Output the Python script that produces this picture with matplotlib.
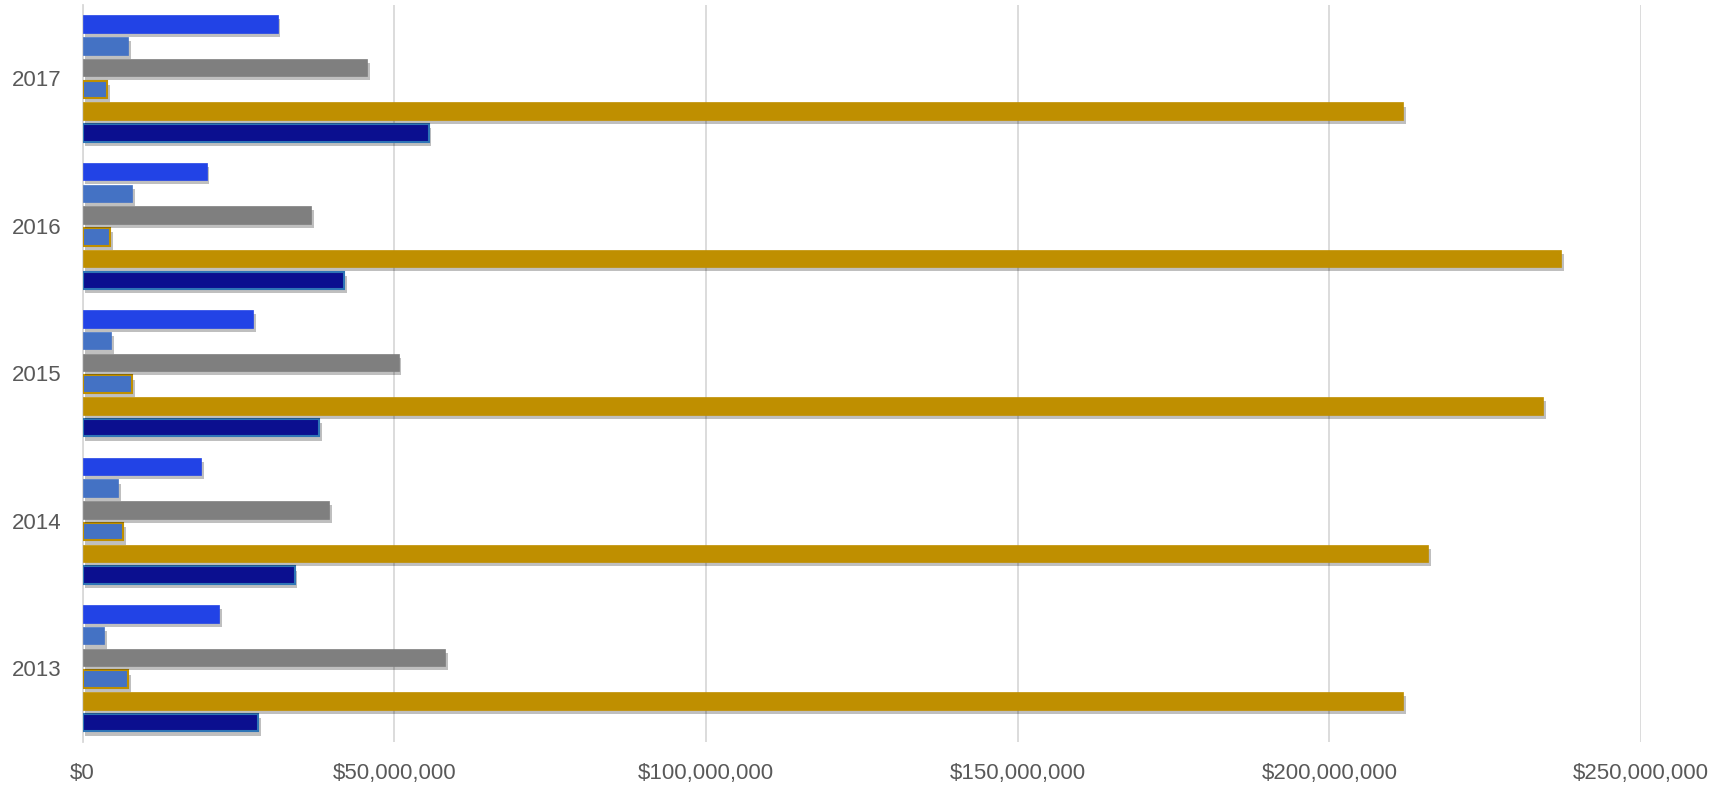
import matplotlib.pyplot as plt
import matplotlib.patheffects as pe
import numpy as np
from matplotlib.ticker import FuncFormatter

plt.rcParams['font.family'] = ['Liberation Sans Narrow', 'Liberation Sans', 'DejaVu Sans']

years = ['2013', '2014', '2015', '2016', '2017']

# series listed bottom-to-top within each year group (values in dollars)
serie_1 = [28.2e6, 34.0e6, 37.9e6, 41.9e6, 55.5e6]      # azul oscuro
serie_2 = [211.8e6, 215.8e6, 234.3e6, 237.2e6, 211.8e6]  # dorado
serie_3 = [7.3e6, 6.5e6, 8.0e6, 4.4e6, 3.9e6]           # azul con borde dorado
serie_4 = [58.2e6, 39.6e6, 50.7e6, 36.6e6, 45.7e6]      # gris
serie_5 = [3.4e6, 5.7e6, 4.6e6, 8.0e6, 7.3e6]           # azul medio
serie_6 = [21.9e6, 19.0e6, 27.4e6, 19.9e6, 31.3e6]      # azul brillante

series = [serie_1, serie_2, serie_3, serie_4, serie_5, serie_6]
colores = ['#0b0f8f', '#bf8f00', '#4472c4', '#7f7f7f', '#4472c4', '#2243e6']
bordes = ['#2e75b6', '#bf8f00', '#bf8f00', '#7f7f7f', '#4472c4', '#2243e6']
grosor = [1.5, 0.5, 1.5, 0.5, 0.5, 0.5]

fig = plt.figure(figsize=(17.24, 7.86), dpi=100)
ax = fig.add_axes([0.0479, 0.056, 0.904, 0.938])

y = np.arange(len(years))
slot = 0.1476
alto = 0.1185
sombra = [pe.SimplePatchShadow(offset=(2, -3), shadow_rgbFace='k', alpha=0.25), pe.Normal()]

for i, (vals, c, b, lw) in enumerate(zip(series, colores, bordes, grosor)):
    pos = y + (i - 2.5) * slot
    bars = ax.barh(pos, vals, height=alto, color=c, edgecolor=b, linewidth=lw, zorder=3)
    for r in bars:
        r.set_path_effects(sombra)

ax.set_xlim(0, 250e6)
ax.set_ylim(-0.5, 4.5)
ax.set_xticks(np.arange(0, 250e6 + 1, 50e6))
ax.xaxis.set_major_formatter(FuncFormatter(lambda v, p: f'${v:,.0f}'))
ax.set_yticks(y)
ax.set_yticklabels(years)

ax.grid(axis='x', color='#d9d9d9', linewidth=1.3, zorder=0)
for s in ['top', 'right', 'bottom']:
    ax.spines[s].set_visible(False)
ax.spines['left'].set_color('#d9d9d9')
ax.spines['left'].set_linewidth(1.3)
ax.tick_params(axis='both', length=0, labelsize=16, colors='#595959')
ax.tick_params(axis='x', pad=15)
ax.tick_params(axis='y', pad=15)

fig.savefig('out.png', dpi=100)
